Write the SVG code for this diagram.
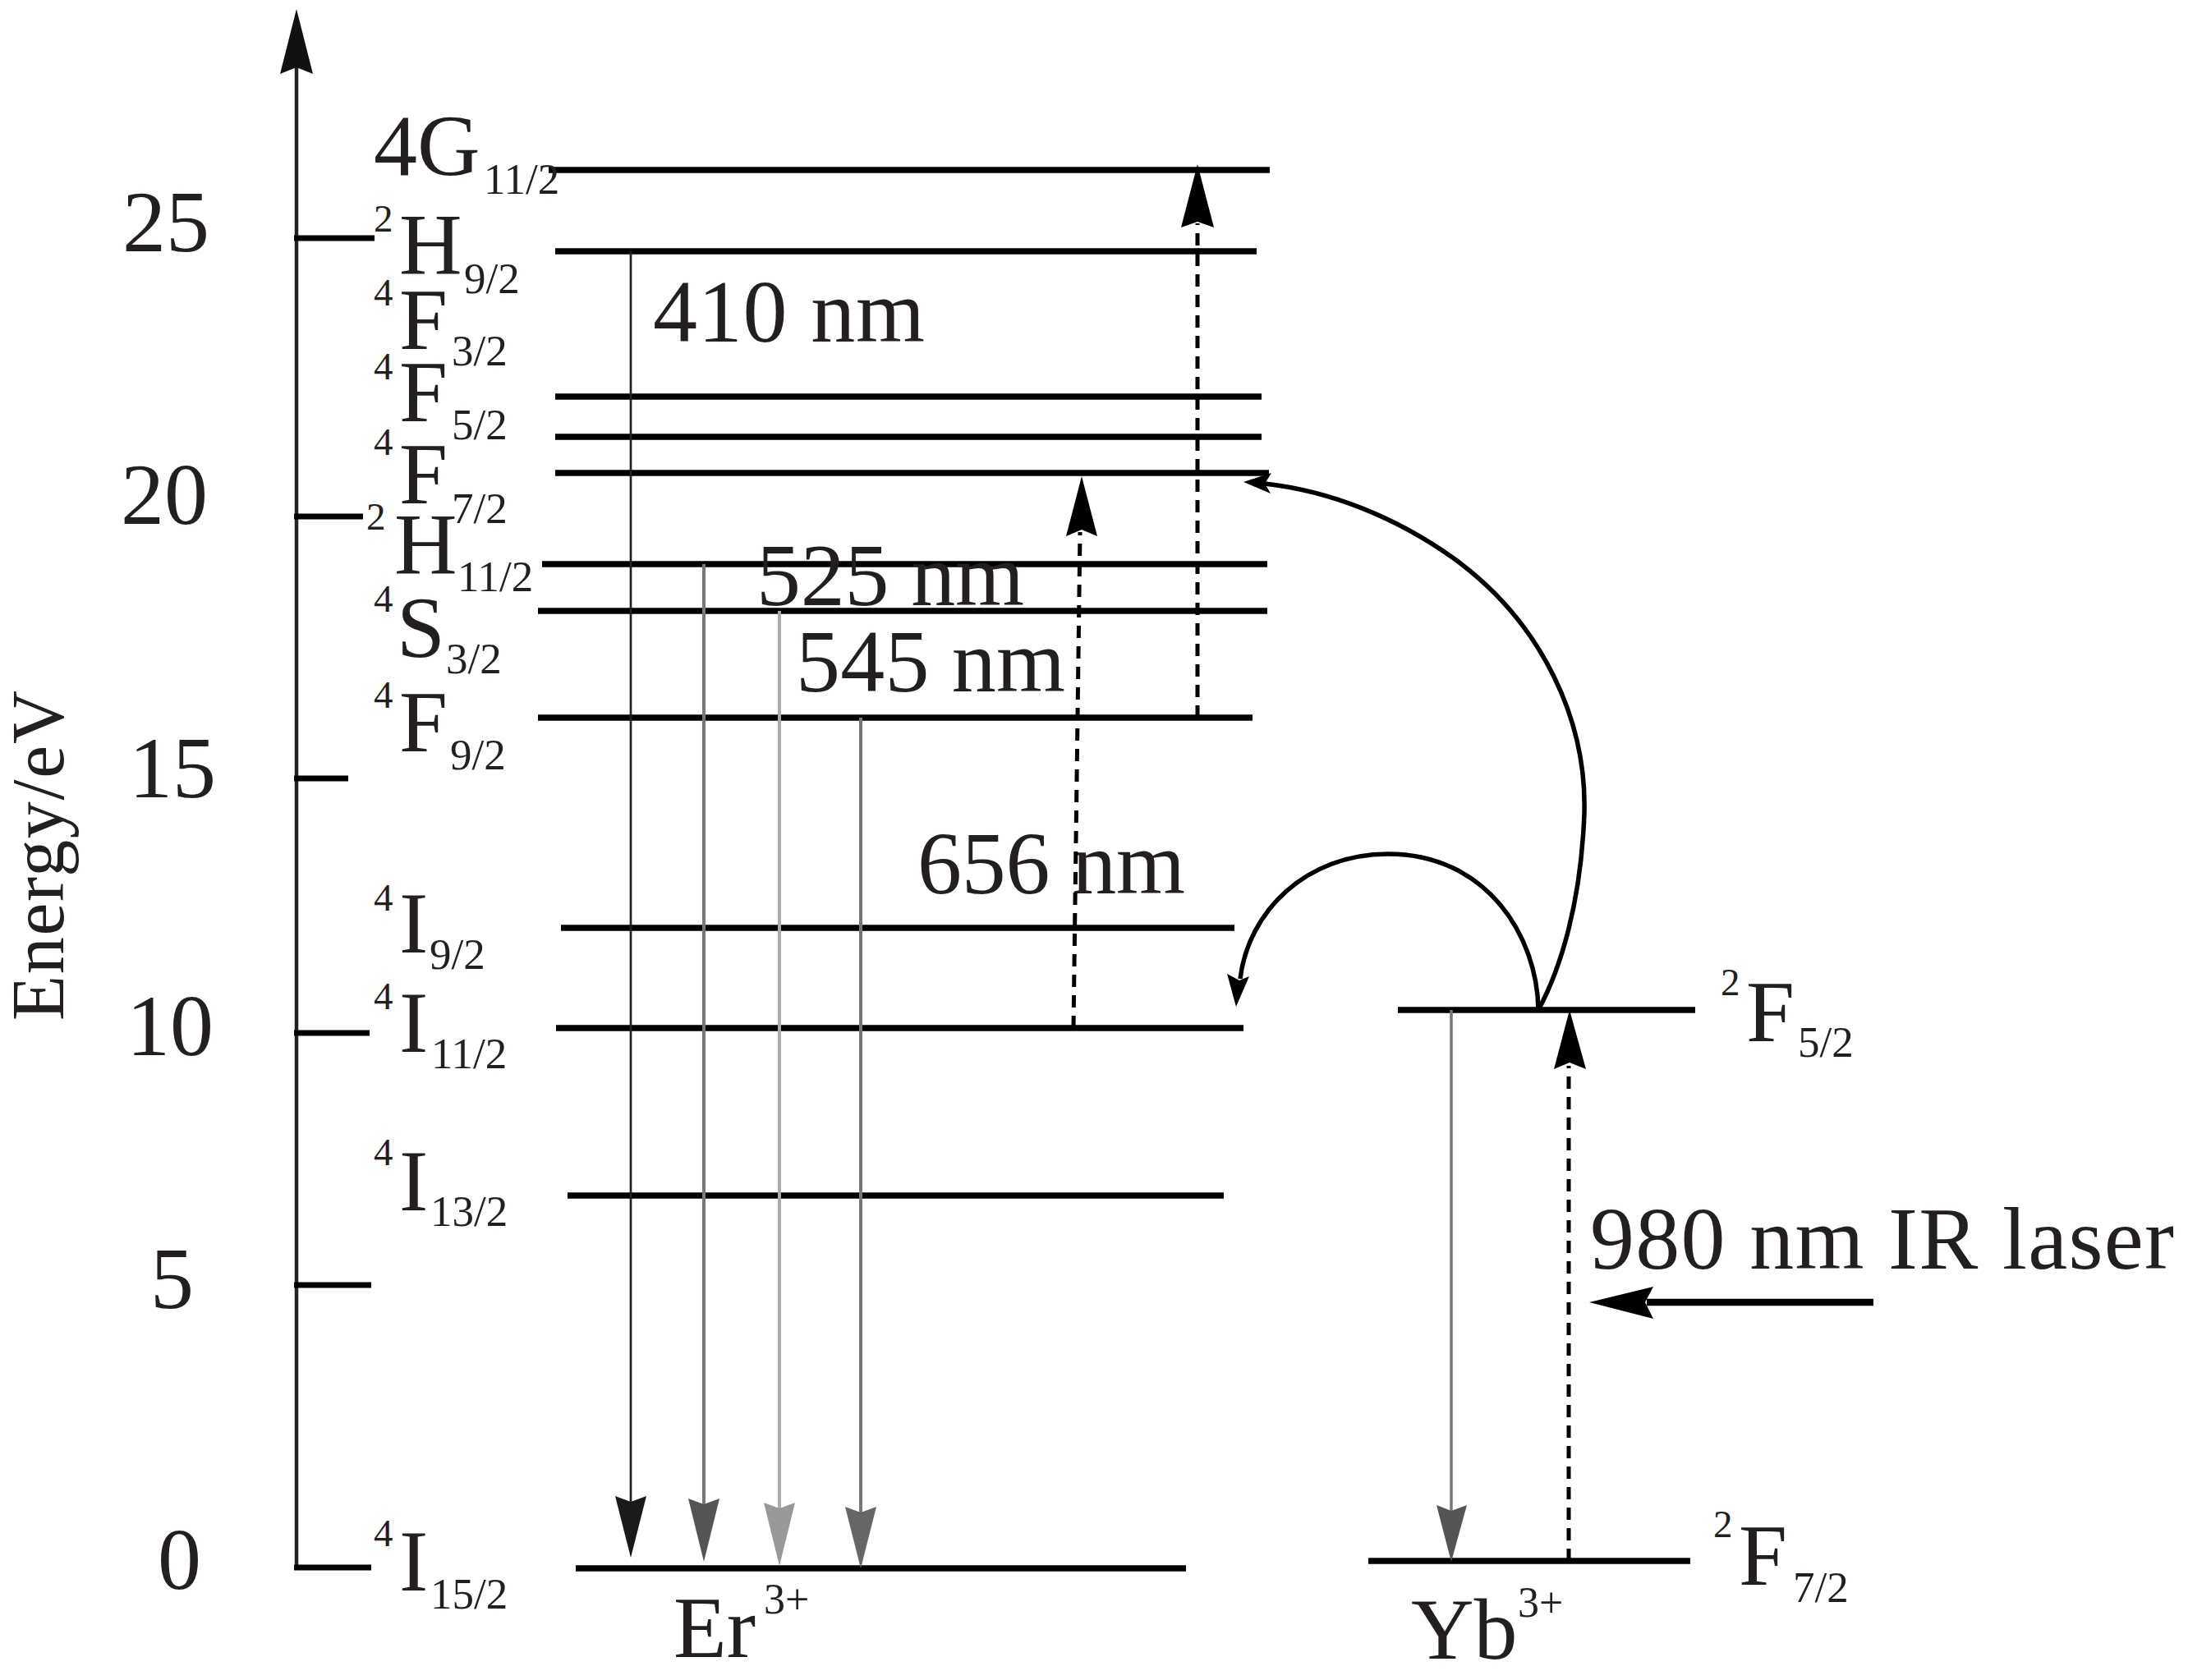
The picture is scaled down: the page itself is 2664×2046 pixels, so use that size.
<svg xmlns="http://www.w3.org/2000/svg" width="2664" height="2046" viewBox="0 0 2664 2046">
<style>
text{font-family:"Liberation Serif","Times New Roman",serif;fill:#231f20}
.big{font-size:106px}
.sub{font-size:53px}
.sup{font-size:47px}
.num{font-size:108px}
.tl{font-size:106px}
.lvl{stroke:#000;stroke-width:7.5}
.tick{stroke:#000;stroke-width:7}
.dash{stroke:#000;stroke-width:5;stroke-dasharray:15 10;fill:none}
.curve{stroke:#000;stroke-width:5.5;fill:none}
.head{fill:#000}
</style>
<rect x="0" y="0" width="2664" height="2046" fill="#fff"/>

<g id="axis">
<line x1="361" y1="1912" x2="361" y2="80" stroke="#222" stroke-width="4.5"/>
<polygon points="361,11 381,90 361,82 341,90" fill="#111"/>
<line class="tick" x1="358" y1="290" x2="456" y2="290"/>
<line class="tick" x1="358" y1="629" x2="442" y2="629"/>
<line class="tick" x1="358" y1="948" x2="424" y2="948"/>
<line class="tick" x1="358" y1="1258" x2="450" y2="1258"/>
<line class="tick" x1="358" y1="1565" x2="452" y2="1565"/>
<line class="tick" x1="358" y1="1909" x2="452" y2="1909"/>
<text class="tl" x="149" y="306">25</text>
<text class="tl" x="147" y="638">20</text>
<text class="tl" x="157" y="971">15</text>
<text class="tl" x="154" y="1285">10</text>
<text class="tl" x="183" y="1593">5</text>
<text class="tl" x="192" y="1935">0</text>
<text x="77" y="1042" font-size="90" text-anchor="middle" textLength="402" lengthAdjust="spacing" transform="rotate(-90 77 1042)">Energy/eV</text>
</g>

<g id="er-4G11-2">
<line class="lvl" x1="668" y1="207" x2="1546" y2="207"/>
<text class="big" x="455" y="213">4G</text>
<text class="sub" x="589" y="236">11/2</text>
</g>
<g id="er-2H9-2">
<line class="lvl" x1="676" y1="306" x2="1530" y2="306"/>
<text class="sup" x="455" y="282">2</text>
<text class="big" x="486" y="333">H</text>
<text class="sub" x="565" y="357">9/2</text>
</g>
<g id="er-4F3-2">
<line class="lvl" x1="676" y1="483" x2="1536" y2="483"/>
<text class="sup" x="455" y="372">4</text>
<text class="big" x="486" y="425">F</text>
<text class="sub" x="550" y="445">3/2</text>
</g>
<g id="er-4F5-2">
<line class="lvl" x1="676" y1="532" x2="1536" y2="532"/>
<text class="sup" x="455" y="462">4</text>
<text class="big" x="486" y="513">F</text>
<text class="sub" x="550" y="535">5/2</text>
</g>
<g id="er-4F7-2">
<line class="lvl" x1="676" y1="576" x2="1545" y2="576"/>
<text class="sup" x="455" y="554">4</text>
<text class="big" x="486" y="613">F</text>
<text class="sub" x="550" y="637">7/2</text>
</g>
<g id="er-2H11-2">
<line class="lvl" x1="660" y1="687" x2="1543" y2="687"/>
<text class="sup" x="446" y="645">2</text>
<text class="big" x="480" y="698">H</text>
<text class="sub" x="557" y="720">11/2</text>
</g>
<g id="er-4S3-2">
<line class="lvl" x1="655" y1="744" x2="1543" y2="744"/>
<text class="sup" x="455" y="745">4</text>
<text class="big" x="483" y="800">S</text>
<text class="sub" x="543" y="820">3/2</text>
</g>
<g id="er-4F9-2">
<line class="lvl" x1="655" y1="874" x2="1525" y2="874"/>
<text class="sup" x="455" y="862">4</text>
<text class="big" x="486" y="915">F</text>
<text class="sub" x="548" y="937">9/2</text>
</g>
<g id="er-4I9-2">
<line class="lvl" x1="683" y1="1130" x2="1503" y2="1130"/>
<text class="sup" x="455" y="1109">4</text>
<text class="big" x="486" y="1160">I</text>
<text class="sub" x="523" y="1180">9/2</text>
</g>
<g id="er-4I11-2">
<line class="lvl" x1="677" y1="1252" x2="1514" y2="1252"/>
<text class="sup" x="455" y="1229">4</text>
<text class="big" x="486" y="1281">I</text>
<text class="sub" x="525" y="1301">11/2</text>
</g>
<g id="er-4I13-2">
<line class="lvl" x1="691" y1="1456" x2="1490" y2="1456"/>
<text class="sup" x="455" y="1419">4</text>
<text class="big" x="486" y="1474">I</text>
<text class="sub" x="524" y="1493">13/2</text>
</g>
<g id="er-4I15-2">
<line class="lvl" x1="701" y1="1910" x2="1444" y2="1910"/>
<text class="sup" x="455" y="1883">4</text>
<text class="big" x="486" y="1937">I</text>
<text class="sub" x="524" y="1959">15/2</text>
</g>
<g id="er-label">
<text class="big" x="820" y="2018">Er</text>
<text x="930" y="1965" font-size="52">3+</text>
</g>

<g id="yb-2F5-2">
<line class="lvl" x1="1702" y1="1230" x2="2064" y2="1230"/>
<text class="sup" x="2095" y="1212">2</text>
<text class="big" x="2126" y="1268">F</text>
<text class="sub" x="2189" y="1287">5/2</text>
</g>
<g id="yb-2F7-2">
<line class="lvl" x1="1666" y1="1901" x2="2058" y2="1901"/>
<text class="sup" x="2086" y="1872">2</text>
<text class="big" x="2117" y="1930">F</text>
<text class="sub" x="2183" y="1951">7/2</text>
</g>
<g id="yb-label">
<text class="big" x="1718" y="2020">Yb</text>
<text x="1848" y="1969" font-size="52">3+</text>
</g>

<g id="labels">
<text class="num" x="795" y="416" textLength="331" lengthAdjust="spacing">410 nm</text>
<text class="num" x="921" y="737" textLength="326" lengthAdjust="spacing">525 nm</text>
<text class="num" x="969" y="842" textLength="328" lengthAdjust="spacing">545 nm</text>
<text class="num" x="1117" y="1088" textLength="326" lengthAdjust="spacing">656 nm</text>
<text class="num" x="1936" y="1545" textLength="711" lengthAdjust="spacing">980 nm IR laser</text>
</g>

<g id="connectors">
<line x1="768" y1="306" x2="768" y2="1830" stroke="#222" stroke-width="2.7"/>
<polygon points="768,1897 749,1822 768,1829 787,1822" fill="#1a1a1a"/>
<line x1="857" y1="687" x2="857" y2="1832" stroke="#777" stroke-width="4"/>
<polygon points="857,1902 838,1825 857,1832 876,1825" fill="#555"/>
<line x1="949" y1="744" x2="949" y2="1837" stroke="#aaa" stroke-width="4"/>
<polygon points="949,1907 930,1830 949,1837 968,1830" fill="#999"/>
<line x1="1048" y1="874" x2="1048" y2="1842" stroke="#777" stroke-width="4"/>
<polygon points="1048,1910 1029,1835 1048,1842 1067,1835" fill="#666"/>
<line x1="1767" y1="1230" x2="1767" y2="1840" stroke="#777" stroke-width="3.5"/>
<polygon points="1767,1902 1749,1833 1767,1840 1786,1833" fill="#555"/>

<line class="dash" x1="1307" y1="1252" x2="1315" y2="648"/>
<polygon class="head" points="1317,580 1336,653 1317,645 1298,653"/>
<line class="dash" x1="1458" y1="874" x2="1458" y2="272"/>
<polygon class="head" points="1458,200 1478,277 1458,270 1438,277"/>
<line class="dash" x1="1910" y1="1901" x2="1910" y2="1298"/>
<polygon class="head" points="1911,1230 1931,1302 1911,1294 1892,1302"/>

<line x1="2281" y1="1586" x2="2005" y2="1586" stroke="#000" stroke-width="8.5"/>
<polygon class="head" points="1935,1586 2013,1567 2003,1586 2013,1606"/>

<path class="curve" d="M1873,1230 C1900,1180 1925,1100 1929,990 C1932,880 1880,760 1770,680 C1700,630 1620,598 1540,589"/>
<polygon class="head" points="1514,587 1548,576 1540,589 1547,601"/>
<path class="curve" d="M1873,1230 C1872,1140 1810,1040 1690,1040 C1590,1040 1520,1110 1510,1192"/>
<polygon class="head" points="1505,1226 1494,1186 1509,1194 1521,1189"/>
</g>
</svg>
